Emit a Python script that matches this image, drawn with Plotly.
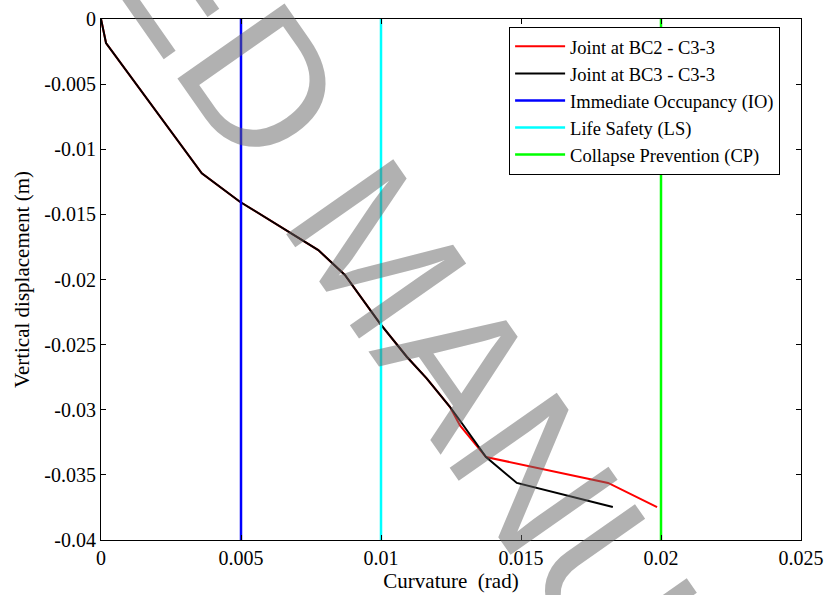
import plotly.graph_objects as go

# Curvature (rad) and vertical displacement (m) of the two joints
bc2_curv = [0, 0.00018, 0.0036, 0.00496, 0.00776, 0.00871, 0.00996, 0.01092,
            0.01163, 0.01246, 0.01282, 0.01375, 0.01811, 0.01986]
bc2_disp = [0, -0.00184, -0.01185, -0.01403, -0.01774, -0.01965, -0.02337, -0.02593,
            -0.02759, -0.02977, -0.03120, -0.03363, -0.03562, -0.03747]

bc3_curv = [0, 0.00018, 0.0036, 0.00496, 0.00776, 0.00871, 0.00996, 0.01092,
            0.01163, 0.01246, 0.01285, 0.01375, 0.01485, 0.01828]
bc3_disp = [0, -0.00184, -0.01185, -0.01403, -0.01774, -0.01965, -0.02337, -0.02593,
            -0.02759, -0.02977, -0.03092, -0.03363, -0.03562, -0.03747]

# Performance-level limits (curvature, rad)
limit_names = ["Immediate Occupancy (IO)", "Life Safety (LS)", "Collapse Prevention (CP)"]
limit_values = [0.005, 0.01, 0.02]
limit_colors = ["#0000ff", "#00ffff", "#00ff00"]

y_range = [-0.04, 0]
x_ticks = [0, 0.005, 0.01, 0.015, 0.02, 0.025]
x_tick_text = ["0", "0.005", "0.01", "0.015", "0.02", "0.025"]
y_ticks = [0, -0.005, -0.01, -0.015, -0.02, -0.025, -0.03, -0.035, -0.04]
y_tick_text = ["0", "-0.005", "-0.01", "-0.015", "-0.02", "-0.025", "-0.03", "-0.035", "-0.04"]

fig = go.Figure()
fig.add_trace(go.Scatter(x=bc2_curv, y=bc2_disp, mode="lines",
                         name="Joint at BC2 - C3-3", line=dict(color="#ff0000", width=2)))
fig.add_trace(go.Scatter(x=bc3_curv, y=bc3_disp, mode="lines",
                         name="Joint at BC3 - C3-3", line=dict(color="#000000", width=2)))
for name, val, col in zip(limit_names, limit_values, limit_colors):
    fig.add_trace(go.Scatter(x=[val, val], y=y_range, mode="lines",
                             name=name, line=dict(color=col, width=2.5)))

serif = "Liberation Serif"
axis_common = dict(showgrid=False, zeroline=False, showline=True, linecolor="black",
                   linewidth=1, ticks="inside", ticklen=5, tickcolor="black",
                   mirror="ticks", automargin=False,
                   tickfont=dict(family=serif, size=20, color="black"))

fig.update_xaxes(range=[0, 0.025], tickvals=x_ticks, ticktext=x_tick_text,
                 title=dict(text="Curvature \u00a0(rad)", standoff=2,
                            font=dict(family=serif, size=21, color="black")),
                 **axis_common)
fig.update_yaxes(range=y_range, tickvals=y_ticks, ticktext=y_tick_text,
                 title=dict(text="Vertical displacement (m)", standoff=8,
                            font=dict(family=serif, size=21, color="black")),
                 **axis_common)

fig.update_layout(
    width=830, height=595,
    margin=dict(l=101, r=29, t=19, b=55),
    paper_bgcolor="white", plot_bgcolor="white",
    font=dict(family=serif, color="black"),
    legend=dict(x=0.583, y=0.985, xanchor="left", yanchor="top",
                bgcolor="white", bordercolor="black", borderwidth=1,
                font=dict(family=serif, size=18.5, color="black"),
                itemwidth=50, tracegroupgap=0),
    annotations=[dict(text="ACCEPTED MANUSCRIPT", xref="paper", yref="paper",
                      x=0.3986, y=0.551, xanchor="center", yanchor="middle",
                      showarrow=False, textangle=55,
                      font=dict(family="Liberation Sans",
                                size=190, color="rgba(100,100,100,0.5)"))],
)

fig.write_html("out.html")
